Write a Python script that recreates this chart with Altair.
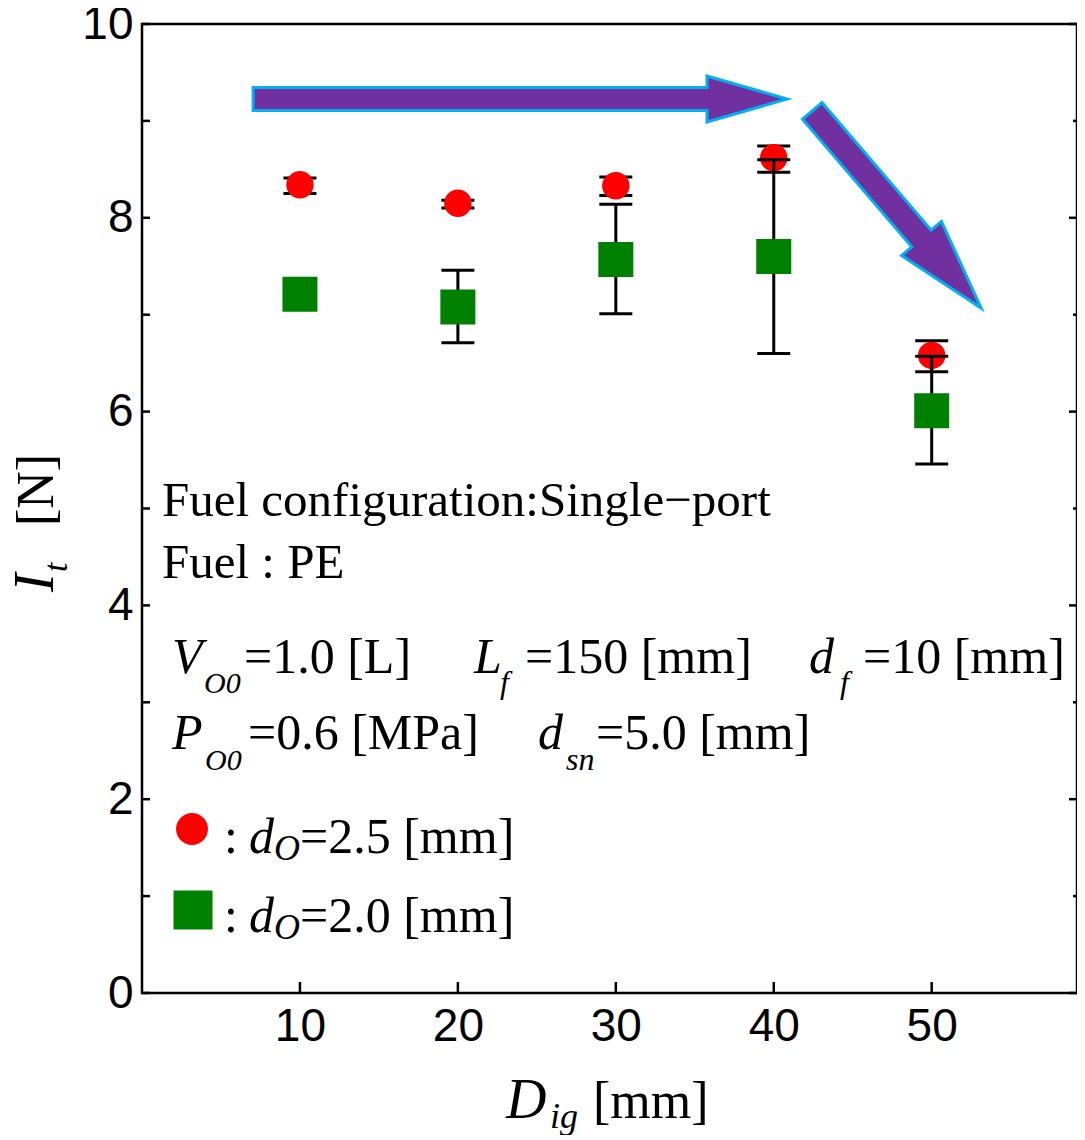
import altair as alt
import pandas as pd

# ---- data ----
ign_dist = [10, 20, 30, 40, 50]
red_mean = [8.34, 8.15, 8.33, 8.62, 6.58]
red_low = [8.25, 8.10, 8.23, 8.47, 6.41]
red_high = [8.41, 8.18, 8.42, 8.74, 6.73]
green_mean = [7.21, 7.08, 7.57, 7.60, 6.01]
green_low = [7.21, 6.71, 7.01, 6.60, 5.46]
green_high = [7.21, 7.46, 8.14, 8.60, 6.57]

y_major = [0, 2, 4, 6, 8, 10]
y_minor = [1, 3, 5, 7, 9]
y_all = list(range(0, 11))
x_ticks = [10, 20, 30, 40, 50]

W, H = 935, 969
SERIF = "Liberation Serif"
SANS = "Liberation Sans"

xs = alt.Scale(domain=[0, 59.2], nice=False, zero=False)
ys = alt.Scale(domain=[0, 10], nice=False, zero=False)
xaxis = alt.Axis(values=x_ticks, title=None, ticks=False, tickSize=0, domain=False, grid=False,
                 labelFont=SANS, labelFontSize=46, labelColor="black", labelPadding=11,
                 labelFlush=False, labelOverlap=False, format="d")
yaxis = alt.Axis(values=y_major, title=None, ticks=False, tickSize=0, domain=False, grid=False,
                 labelFont=SANS, labelFontSize=46, labelColor="black", labelPadding=9,
                 labelFlush=False, labelOverlap=False, format="d")


def X(f):
    return alt.X(f, type="quantitative", scale=xs, axis=xaxis)


def Y(f):
    return alt.Y(f, type="quantitative", scale=ys, axis=yaxis)


red = pd.DataFrame({"x": ign_dist, "m": red_mean, "lo": red_low, "hi": red_high})
green = pd.DataFrame({"x": ign_dist, "m": green_mean, "lo": green_low, "hi": green_high})

layers = []

# inward ticks
left_t = alt.Chart(pd.DataFrame({"v": y_all})).mark_rule(color="black", strokeWidth=2.5).encode(
    y=Y("v"), x=alt.value(0), x2=alt.value(8))
right_major = alt.Chart(pd.DataFrame({"v": y_major})).mark_rule(color="black", strokeWidth=2.5).encode(
    y=Y("v"), x=alt.value(W - 8), x2=alt.value(W))
right_minor = alt.Chart(pd.DataFrame({"v": y_minor})).mark_rule(color="black", strokeWidth=2.5).encode(
    y=Y("v"), x=alt.value(W - 4), x2=alt.value(W))
bottom_t = alt.Chart(pd.DataFrame({"v": x_ticks})).mark_rule(color="black", strokeWidth=2.5).encode(
    x=X("v"), y=alt.value(H), y2=alt.value(H - 11))
layers += [left_t, right_major, right_minor, bottom_t]


def errbars(df):
    base = alt.Chart(df)
    bar = base.mark_rule(color="black", strokeWidth=3).encode(x=X("x"), y=Y("lo"), y2="hi")
    cap_lo = base.mark_tick(color="black", thickness=3, size=33, orient="horizontal", opacity=1).encode(
        x=X("x"), y=Y("lo"))
    cap_hi = base.mark_tick(color="black", thickness=3, size=33, orient="horizontal", opacity=1).encode(
        x=X("x"), y=Y("hi"))
    return [bar, cap_lo, cap_hi]


layers += errbars(red)
layers.append(alt.Chart(red).mark_point(shape="circle", filled=True, color="#FF0000", size=755, opacity=1).encode(
    x=X("x"), y=Y("m")))
layers += errbars(green)
layers.append(alt.Chart(green).mark_point(shape="square", filled=True, color="#008000", size=1225, opacity=1).encode(
    x=X("x"), y=Y("m")))

# arrows (custom symbol paths, positioned in data units)
arrow_h = "M -1 -0.043 L 0.7 -0.043 L 0.7 -0.086 L 1 0 L 0.7 0.086 L 0.7 0.043 L -1 0.043 Z"
arrow_d = "M -1 -0.0986 L 0.294 -0.0986 L 0.294 -0.202 L 1 0 L 0.294 0.202 L 0.294 0.0986 L -1 0.0986 Z"
layers.append(alt.Chart(pd.DataFrame({"x": [23.94], "y": [9.226]})).mark_point(
    shape=arrow_h, filled=True, fill="#7030A0", stroke="#00B0F0", strokeWidth=3, opacity=1,
    fillOpacity=1, strokeOpacity=1, size=534 ** 2).encode(x=X("x"), y=Y("y")))
layers.append(alt.Chart(pd.DataFrame({"x": [47.78], "y": [8.086]})).mark_point(
    shape=arrow_d, filled=True, fill="#7030A0", stroke="#00B0F0", strokeWidth=3, opacity=1,
    fillOpacity=1, strokeOpacity=1, size=259.6 ** 2, angle=49.4).encode(x=X("x"), y=Y("y")))

# legend symbols
layers.append(alt.Chart(pd.DataFrame({"a": [0]})).mark_point(shape="circle", filled=True, color="#FF0000",
                                                             size=1018, opacity=1).encode(
    x=alt.value(50), y=alt.value(805)))
layers.append(alt.Chart(pd.DataFrame({"a": [0]})).mark_point(shape="square", filled=True, color="#008000",
                                                             size=1521, opacity=1).encode(
    x=alt.value(51), y=alt.value(886)))

# text annotations: (text, x, y, size, style, angle)
texts = [
    ("Fuel configuration:Single\u2212port", 20, 492, 49, "normal", 0),
    ("Fuel : PE", 20, 554, 49, "normal", 0),
    ("V", 30, 649, 50, "italic", 0),
    ("O0", 62, 669, 30, "italic", 0),
    ("=1.0 [L]", 102, 649, 50, "normal", 0),
    ("L", 332, 649, 50, "italic", 0),
    ("f", 358, 669, 32, "italic", 0),
    ("=150 [mm]", 383, 649, 50, "normal", 0),
    ("d", 667, 649, 50, "italic", 0),
    ("f", 698, 669, 32, "italic", 0),
    ("=10 [mm]", 721, 649, 50, "normal", 0),
    ("P", 30, 725, 50, "italic", 0),
    ("O0", 63, 746, 30, "italic", 0),
    ("=0.6 [MPa]", 106, 725, 50, "normal", 0),
    ("d", 396, 725, 50, "italic", 0),
    ("sn", 424, 746, 32, "italic", 0),
    ("=5.0 [mm]", 454, 725, 50, "normal", 0),
    (":", 82, 829, 50, "normal", 0),
    ("d", 107, 829, 50, "italic", 0),
    ("O", 132, 836, 36, "italic", 0),
    ("=2.5 [mm]", 158, 829, 50, "normal", 0),
    (":", 82, 908, 50, "normal", 0),
    ("d", 107, 908, 50, "italic", 0),
    ("O", 132, 915, 36, "italic", 0),
    ("=2.0 [mm]", 158, 908, 50, "normal", 0),
    ("D", 364, 1094, 56, "italic", 0),
    ("ig", 408, 1104, 36, "italic", 0),
    ("[mm]", 451, 1094, 52, "normal", 0),
    ("I", -89, 568, 56, "italic", 270),
    ("t", -75, 548, 34, "italic", 270),
    ("[N]", -89, 502, 52, "normal", 270),
]
for s, tx, ty, size, style, ang in texts:
    layers.append(alt.Chart(pd.DataFrame({"a": [0]})).mark_text(
        text=s, font=SERIF, fontSize=size, fontStyle=style, align="left", baseline="alphabetic",
        angle=ang, color="black").encode(x=alt.value(tx), y=alt.value(ty)))

chart = alt.layer(*layers).properties(
    width=W, height=H, autosize="none",
    padding={"left": 134, "top": 16, "right": 0, "bottom": 142},
).configure_view(stroke="black", strokeWidth=2.5)

chart.save("out.html", embed_options={"renderer": "svg", "actions": False})
